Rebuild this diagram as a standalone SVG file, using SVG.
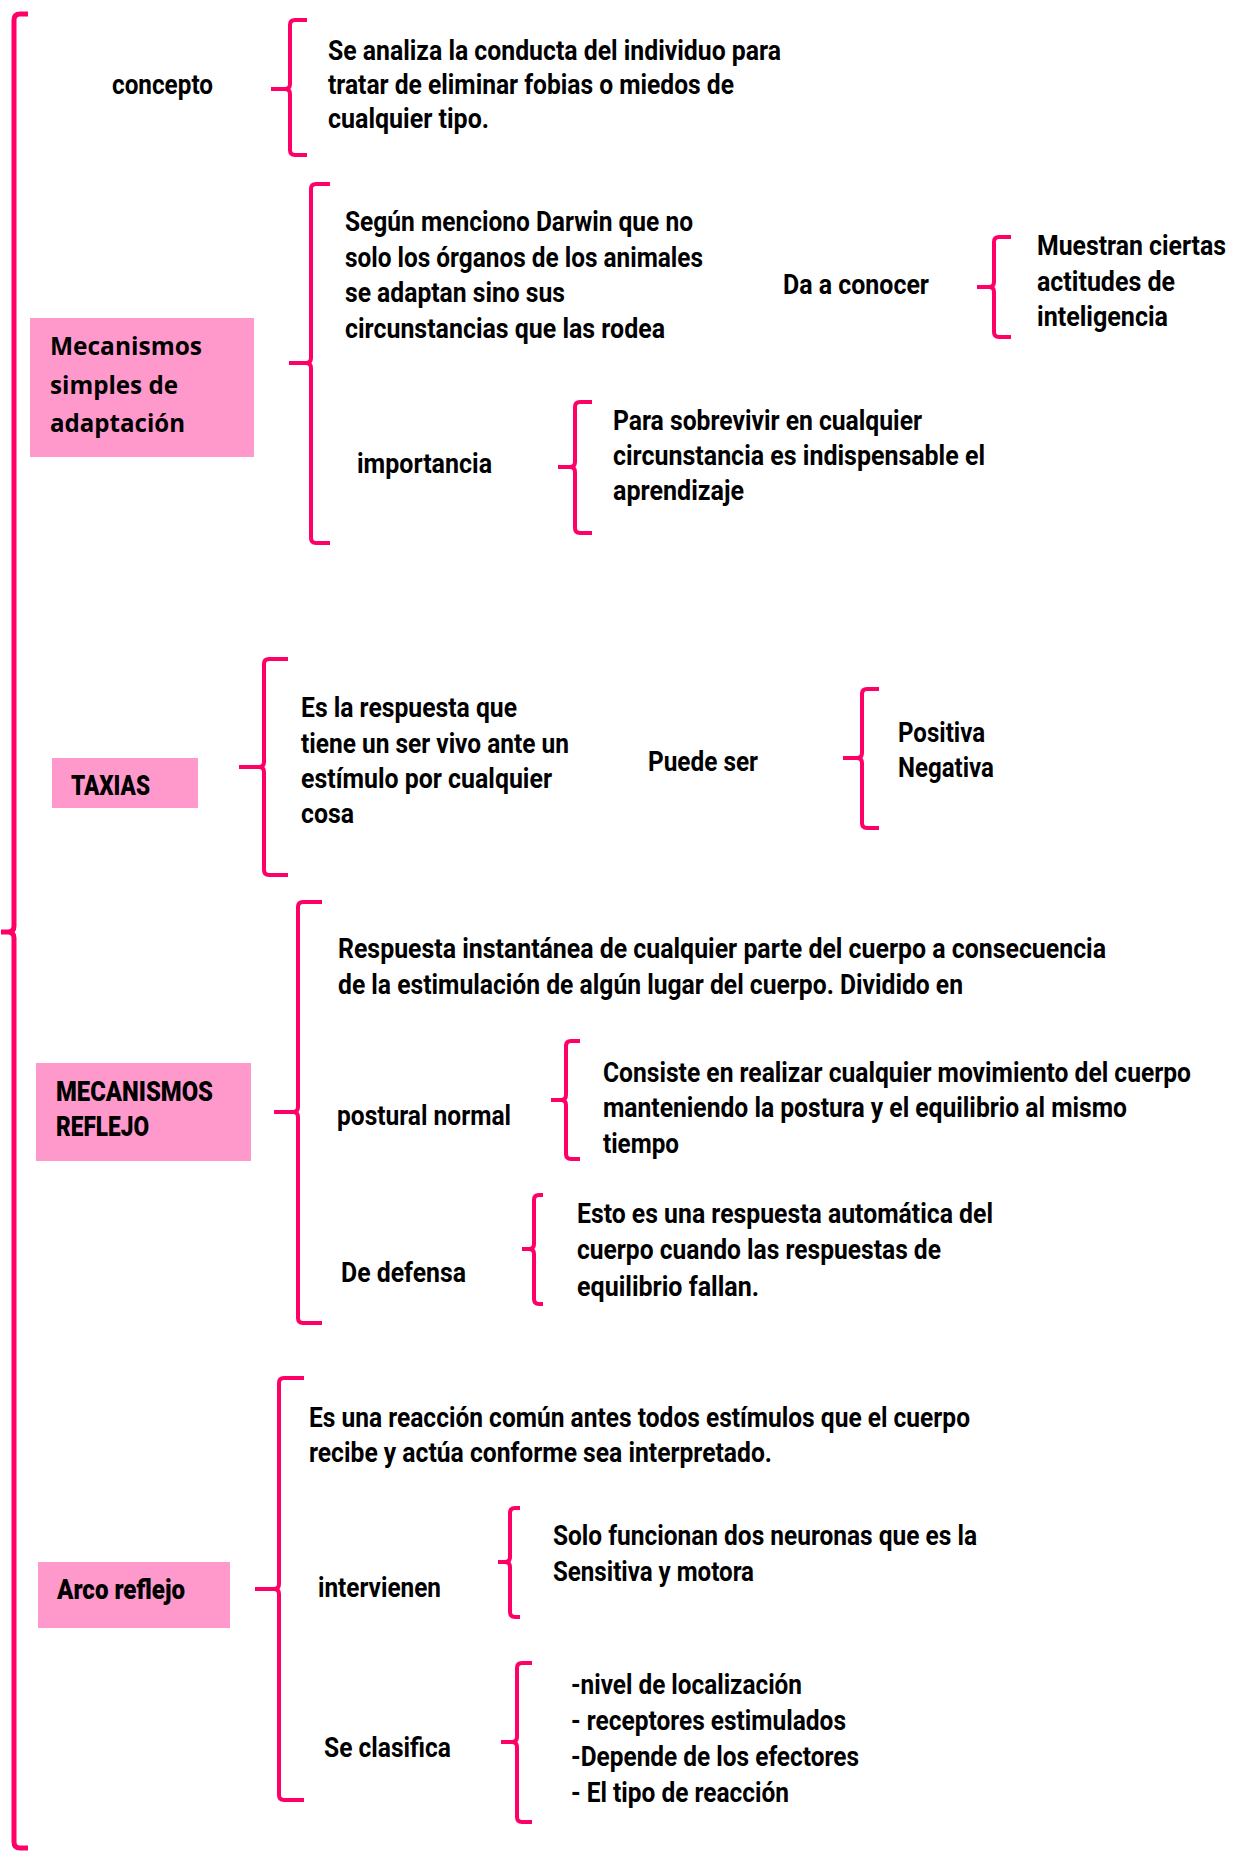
<svg xmlns="http://www.w3.org/2000/svg" width="1241" height="1860" viewBox="0 0 1241 1860">
<style>
.t{font-family:Roboto,"Liberation Sans","DejaVu Sans",sans-serif;font-weight:700;font-size:28px;fill:#000}
.s{font-size:24px}
.c{font-family:"Open Sans","Noto Sans","Liberation Sans",sans-serif;font-weight:700;font-size:25px;fill:#000}
.h{font-family:Roboto,"Liberation Sans","DejaVu Sans",sans-serif;font-weight:900;font-size:27px;fill:#000}
.box{fill:#FF99CC}
.br{fill:none;stroke:#FF0066;stroke-width:4;stroke-linecap:butt;stroke-linejoin:round}
.big{stroke-width:5}
</style>
<rect width="1241" height="1860" fill="#fff"/>
<g id="connectors">
<path class="br big" d="M28,14 H20 Q14,14 14,20 V926 Q14,932 8,932 H1 M8,932 Q14,932 14,938 V1842 Q14,1848 20,1848 H28"/>
<path class="br" d="M307,20 H295 Q290,20 290,25 V84 Q290,89 285,89 H271 M285,89 Q290,89 290,94 V150 Q290,155 295,155 H307"/>
<path class="br" d="M330,184 H316 Q311,184 311,189 V358 Q311,363 306,363 H289 M306,363 Q311,363 311,368 V538 Q311,543 316,543 H330"/>
<path class="br" d="M1011,237 H999 Q994,237 994,242 V282 Q994,287 989,287 H977 M989,287 Q994,287 994,292 V332 Q994,337 999,337 H1011"/>
<path class="br" d="M592,402 H580 Q575,402 575,407 V462 Q575,467 570,467 H558 M570,467 Q575,467 575,472 V528 Q575,533 580,533 H592"/>
<path class="br" d="M288,659 H269 Q264,659 264,664 V762 Q264,767 259,767 H239 M259,767 Q264,767 264,772 V870 Q264,875 269,875 H288"/>
<path class="br" d="M879,689 H867 Q862,689 862,694 V753 Q862,758 857,758 H843 M857,758 Q862,758 862,763 V823 Q862,828 867,828 H879"/>
<path class="br" d="M322,902 H303 Q298,902 298,907 V1107 Q298,1112 293,1112 H274 M293,1112 Q298,1112 298,1117 V1318 Q298,1323 303,1323 H322"/>
<path class="br" d="M580,1041 H571 Q566,1041 566,1046 V1095 Q566,1100 561,1100 H551 M561,1100 Q566,1100 566,1105 V1154 Q566,1159 571,1159 H580"/>
<path class="br" d="M543,1195 H539 Q534,1195 534,1200 V1244 Q534,1249 529,1249 H522 M529,1249 Q534,1249 534,1254 V1299 Q534,1304 539,1304 H543"/>
<path class="br" d="M304,1378 H284 Q279,1378 279,1383 V1584 Q279,1589 274,1589 H255 M274,1589 Q279,1589 279,1594 V1795 Q279,1800 284,1800 H304"/>
<path class="br" d="M520,1508 H515 Q510,1508 510,1513 V1557 Q510,1562 505,1562 H498 M505,1562 Q510,1562 510,1567 V1612 Q510,1617 515,1617 H520"/>
<path class="br" d="M532,1663 H522 Q517,1663 517,1668 V1737 Q517,1742 512,1742 H501 M512,1742 Q517,1742 517,1747 V1817 Q517,1822 522,1822 H532"/>
</g>
<g id="concepto">
<text class="t" x="112" y="94" textLength="101" lengthAdjust="spacingAndGlyphs">concepto</text>
</g>
<g id="concepto-def">
<text class="t" x="328" y="60" textLength="453" lengthAdjust="spacingAndGlyphs">Se analiza la conducta del individuo para</text>
<text class="t" x="328" y="94" textLength="406" lengthAdjust="spacingAndGlyphs">tratar de eliminar fobias o miedos de</text>
<text class="t" x="328" y="128" textLength="161" lengthAdjust="spacingAndGlyphs">cualquier tipo.</text>
</g>
<g id="mecanismos-simples">
<rect class="box" x="30" y="318" width="224" height="139"/>
<text class="c" x="50" y="355" textLength="152" lengthAdjust="spacingAndGlyphs">Mecanismos</text>
<text class="c" x="50" y="394" textLength="128" lengthAdjust="spacingAndGlyphs">simples de</text>
<text class="c" x="50" y="432" textLength="135" lengthAdjust="spacingAndGlyphs">adaptación</text>
</g>
<g id="darwin">
<text class="t" x="345" y="231" textLength="348" lengthAdjust="spacingAndGlyphs">Según menciono Darwin que no</text>
<text class="t" x="345" y="267" textLength="358" lengthAdjust="spacingAndGlyphs">solo los órganos de los animales</text>
<text class="t" x="345" y="302" textLength="220" lengthAdjust="spacingAndGlyphs">se adaptan sino sus</text>
<text class="t" x="345" y="338" textLength="320" lengthAdjust="spacingAndGlyphs">circunstancias que las rodea</text>
</g>
<g id="da-a-conocer">
<text class="t" x="783" y="294" textLength="146" lengthAdjust="spacingAndGlyphs">Da a conocer</text>
</g>
<g id="muestran">
<text class="t s" transform="translate(1037,255) scale(1,1.1667)" x="0" y="0" textLength="189" lengthAdjust="spacingAndGlyphs">Muestran ciertas</text>
<text class="t" x="1037" y="291" textLength="138" lengthAdjust="spacingAndGlyphs">actitudes de</text>
<text class="t" x="1037" y="326" textLength="131" lengthAdjust="spacingAndGlyphs">inteligencia</text>
</g>
<g id="importancia">
<text class="t" x="357" y="473" textLength="135" lengthAdjust="spacingAndGlyphs">importancia</text>
</g>
<g id="sobrevivir">
<text class="t" x="613" y="430" textLength="309" lengthAdjust="spacingAndGlyphs">Para sobrevivir en cualquier</text>
<text class="t" x="613" y="465" textLength="372" lengthAdjust="spacingAndGlyphs">circunstancia es indispensable el</text>
<text class="t" x="613" y="500" textLength="131" lengthAdjust="spacingAndGlyphs">aprendizaje</text>
</g>
<g id="taxias">
<rect class="box" x="52" y="758" width="146" height="50"/>
<text class="h" x="71" y="795" textLength="79" lengthAdjust="spacingAndGlyphs">TAXIAS</text>
</g>
<g id="taxias-def">
<text class="t" x="301" y="717" textLength="216" lengthAdjust="spacingAndGlyphs">Es la respuesta que</text>
<text class="t" x="301" y="753" textLength="268" lengthAdjust="spacingAndGlyphs">tiene un ser vivo ante un</text>
<text class="t" x="301" y="788" textLength="251" lengthAdjust="spacingAndGlyphs">estímulo por cualquier</text>
<text class="t" x="301" y="823" textLength="53" lengthAdjust="spacingAndGlyphs">cosa</text>
</g>
<g id="puede-ser">
<text class="t" x="648" y="771" textLength="110" lengthAdjust="spacingAndGlyphs">Puede ser</text>
</g>
<g id="positiva-negativa">
<text class="t" x="898" y="742" textLength="87" lengthAdjust="spacingAndGlyphs">Positiva</text>
<text class="t" x="898" y="777" textLength="96" lengthAdjust="spacingAndGlyphs">Negativa</text>
</g>
<g id="mecanismos-reflejo">
<rect class="box" x="36" y="1063" width="215" height="98"/>
<text class="h" x="56" y="1101" textLength="157" lengthAdjust="spacingAndGlyphs">MECANISMOS</text>
<text class="h" x="56" y="1136" textLength="93" lengthAdjust="spacingAndGlyphs">REFLEJO</text>
</g>
<g id="reflejo-def">
<text class="t" x="338" y="958" textLength="768" lengthAdjust="spacingAndGlyphs">Respuesta instantánea de cualquier parte del cuerpo a consecuencia</text>
<text class="t" x="338" y="994" textLength="625" lengthAdjust="spacingAndGlyphs">de la estimulación de algún lugar del cuerpo. Dividido en</text>
</g>
<g id="postural-normal">
<text class="t" x="337" y="1125" textLength="174" lengthAdjust="spacingAndGlyphs">postural normal</text>
</g>
<g id="consiste">
<text class="t s" transform="translate(603,1082) scale(1,1.1667)" x="0" y="0" textLength="588" lengthAdjust="spacingAndGlyphs">Consiste en realizar cualquier movimiento del cuerpo</text>
<text class="t" x="603" y="1117" textLength="524" lengthAdjust="spacingAndGlyphs">manteniendo la postura y el equilibrio al mismo</text>
<text class="t" x="603" y="1153" textLength="76" lengthAdjust="spacingAndGlyphs">tiempo</text>
</g>
<g id="de-defensa">
<text class="t" x="341" y="1282" textLength="125" lengthAdjust="spacingAndGlyphs">De defensa</text>
</g>
<g id="esto">
<text class="t" x="577" y="1223" textLength="416" lengthAdjust="spacingAndGlyphs">Esto es una respuesta automática del</text>
<text class="t" x="577" y="1259" textLength="364" lengthAdjust="spacingAndGlyphs">cuerpo cuando las respuestas de</text>
<text class="t" x="577" y="1296" textLength="182" lengthAdjust="spacingAndGlyphs">equilibrio fallan.</text>
</g>
<g id="arco-reflejo">
<rect class="box" x="38" y="1562" width="192" height="66"/>
<text class="h" x="57" y="1599" textLength="128" lengthAdjust="spacingAndGlyphs">Arco reflejo</text>
</g>
<g id="arco-def">
<text class="t" x="309" y="1427" textLength="661" lengthAdjust="spacingAndGlyphs">Es una reacción común antes todos estímulos que el cuerpo</text>
<text class="t" x="309" y="1462" textLength="463" lengthAdjust="spacingAndGlyphs">recibe y actúa conforme sea interpretado.</text>
</g>
<g id="intervienen">
<text class="t" x="318" y="1597" textLength="123" lengthAdjust="spacingAndGlyphs">intervienen</text>
</g>
<g id="neuronas">
<text class="t" x="553" y="1545" textLength="424" lengthAdjust="spacingAndGlyphs">Solo funcionan dos neuronas que es la</text>
<text class="t" x="553" y="1581" textLength="201" lengthAdjust="spacingAndGlyphs">Sensitiva y motora</text>
</g>
<g id="se-clasifica">
<text class="t" x="324" y="1757" textLength="127" lengthAdjust="spacingAndGlyphs">Se clasifica</text>
</g>
<g id="clasificacion">
<text class="t" x="571" y="1694" textLength="231" lengthAdjust="spacingAndGlyphs">-nivel de localización</text>
<text class="t" x="571" y="1730" textLength="275" lengthAdjust="spacingAndGlyphs">- receptores estimulados</text>
<text class="t" x="571" y="1766" textLength="288" lengthAdjust="spacingAndGlyphs">-Depende de los efectores</text>
<text class="t" x="571" y="1802" textLength="218" lengthAdjust="spacingAndGlyphs">- El tipo de reacción</text>
</g>
</svg>
